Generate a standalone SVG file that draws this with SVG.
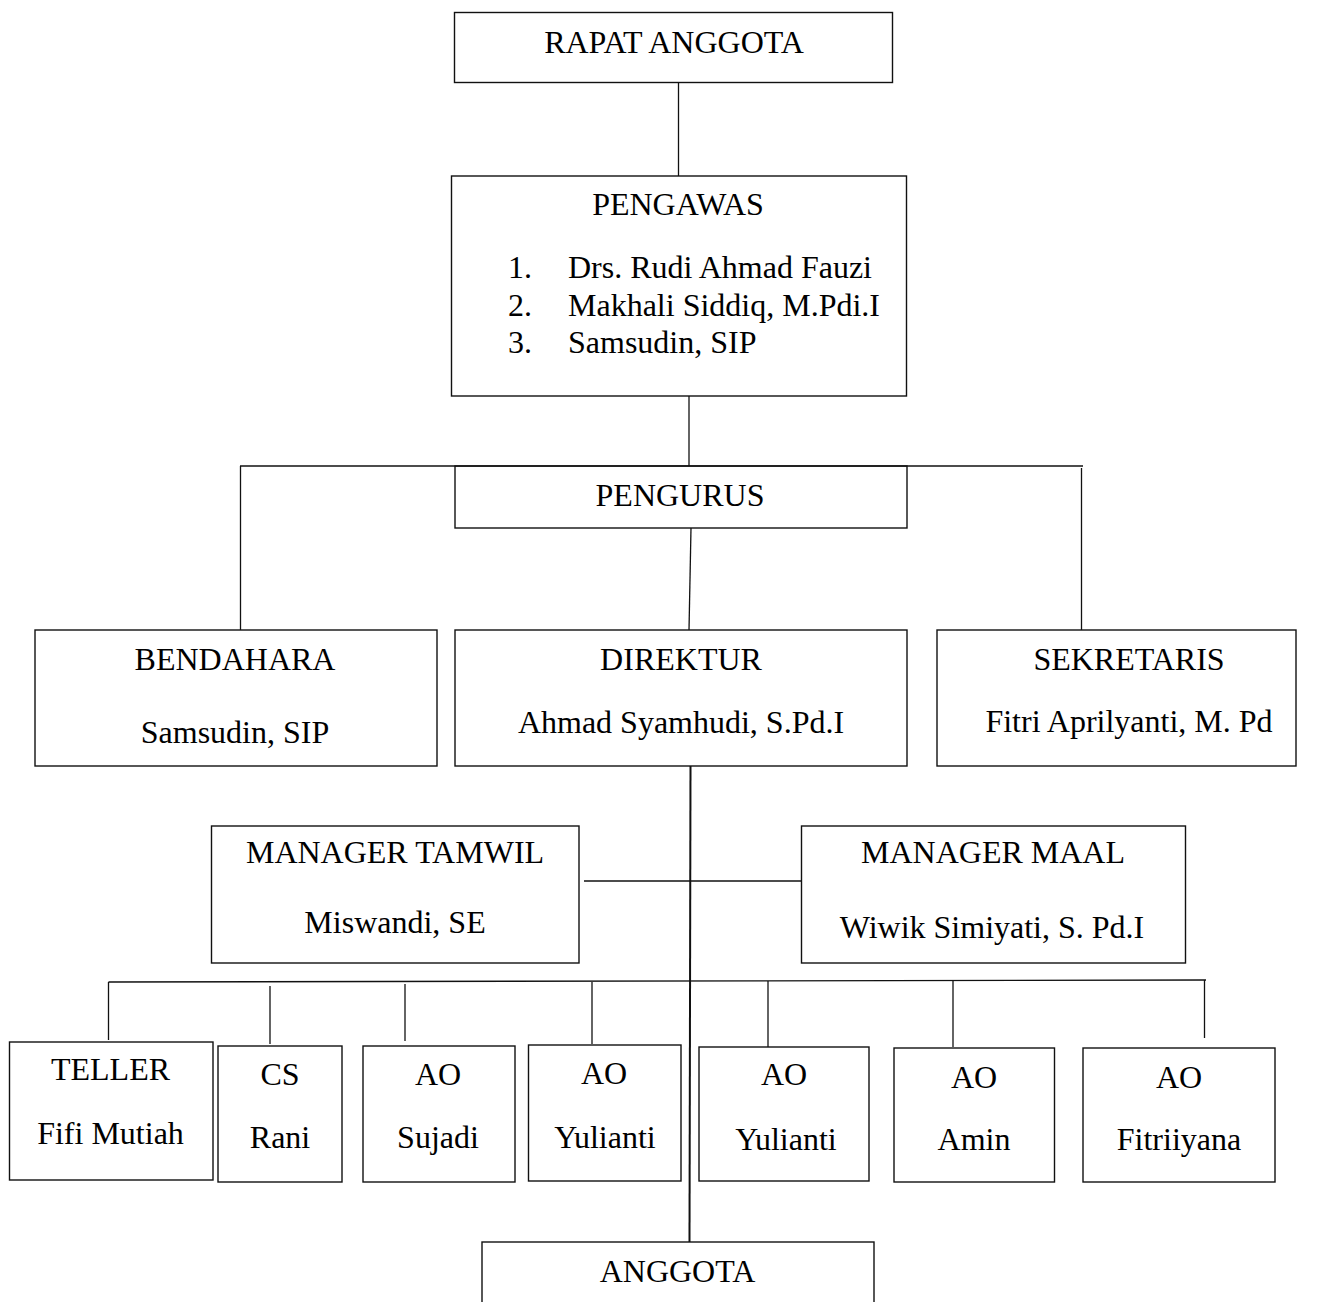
<svg xmlns="http://www.w3.org/2000/svg" width="1328" height="1302" viewBox="0 0 1328 1302">
<style>
rect{fill:#fff;stroke:#111;stroke-width:1.4}
text{font-family:"Liberation Serif","Times New Roman",serif;font-size:32px;fill:#000}
.c{text-anchor:middle}
#connectors line{stroke:#111;stroke-width:1.3}
#connectors line.m{stroke-width:2}
</style>
<rect x="0" y="0" width="1328" height="1302" style="fill:#fff;stroke:none"/>
<g id="connectors">
<line x1="678.5" y1="82" x2="678.5" y2="176"/>
<line x1="689" y1="396" x2="689" y2="466"/>
<line x1="691" y1="528" x2="689" y2="630"/>
<line x1="240.5" y1="466" x2="240.5" y2="630"/>
<line x1="1081.5" y1="468" x2="1081.5" y2="630"/>
<line x1="584" y1="881" x2="801" y2="881"/>
<line x1="108.5" y1="982" x2="1206" y2="980"/>
<line x1="108.5" y1="982" x2="108.5" y2="1040"/>
<line x1="270" y1="986" x2="270" y2="1044"/>
<line x1="405" y1="984" x2="405" y2="1041"/>
<line x1="592" y1="982" x2="592" y2="1044"/>
<line x1="768" y1="981" x2="768" y2="1047"/>
<line x1="953" y1="980" x2="953" y2="1047"/>
<line x1="1204.5" y1="980" x2="1204.5" y2="1038"/>
</g>
<g id="rapat"><rect x="454.5" y="12.5" width="438" height="70"/><text class="c" x="674" y="53">RAPAT ANGGOTA</text></g>
<g id="pengawas"><rect x="451.5" y="176" width="455" height="220"/>
<text class="c" x="678" y="215">PENGAWAS</text>
<text x="508" y="278">1.</text><text x="568" y="278">Drs. Rudi Ahmad Fauzi</text>
<text x="508" y="316">2.</text><text x="568" y="316">Makhali Siddiq, M.Pdi.I</text>
<text x="508" y="353">3.</text><text x="568" y="353">Samsudin, SIP</text>
</g>
<g id="pengurus"><rect x="455" y="466" width="452" height="62"/><text class="c" x="680" y="506">PENGURUS</text></g>
<line x1="240" y1="466" x2="1083" y2="466" style="stroke:#111;stroke-width:1.3"/>
<g id="bendahara"><rect x="35" y="630" width="402" height="136"/><text class="c" x="235" y="670">BENDAHARA</text><text class="c" x="235" y="743">Samsudin, SIP</text></g>
<g id="direktur"><rect x="455" y="630" width="452" height="136"/><text class="c" x="681" y="670">DIREKTUR</text><text class="c" x="681" y="733">Ahmad Syamhudi, S.Pd.I</text></g>
<g id="sekretaris"><rect x="937" y="630" width="359" height="136"/><text class="c" x="1129" y="670">SEKRETARIS</text><text class="c" x="1129" y="732">Fitri Aprilyanti, M. Pd</text></g>
<g id="tamwil"><rect x="211.5" y="826" width="367.5" height="137"/><text class="c" x="395" y="863">MANAGER TAMWIL</text><text class="c" x="395" y="933">Miswandi, SE</text></g>
<g id="maal"><rect x="801.5" y="826" width="384" height="137"/><text class="c" x="993" y="863">MANAGER MAAL</text><text class="c" x="992" y="938">Wiwik Simiyati, S. Pd.I</text></g>
<g id="teller"><rect x="9.5" y="1042" width="203.5" height="138"/><text class="c" x="110.5" y="1080">TELLER</text><text class="c" x="110.5" y="1144">Fifi Mutiah</text></g>
<g id="cs"><rect x="218" y="1046" width="124" height="136"/><text class="c" x="280" y="1085">CS</text><text class="c" x="280" y="1148">Rani</text></g>
<g id="ao-sujadi"><rect x="363" y="1046" width="152" height="136"/><text class="c" x="438" y="1085">AO</text><text class="c" x="438" y="1148">Sujadi</text></g>
<g id="ao-yulianti-1"><rect x="528.5" y="1045" width="152.5" height="136"/><text class="c" x="604" y="1084">AO</text><text class="c" x="605" y="1148">Yulianti</text></g>
<g id="ao-yulianti-2"><rect x="699" y="1047" width="170" height="134"/><text class="c" x="784" y="1085">AO</text><text class="c" x="786" y="1150">Yulianti</text></g>
<g id="ao-amin"><rect x="894" y="1048" width="160.5" height="134"/><text class="c" x="974" y="1088">AO</text><text class="c" x="974" y="1150">Amin</text></g>
<g id="ao-fitriiyana"><rect x="1083" y="1048" width="192" height="134"/><text class="c" x="1179" y="1088">AO</text><text class="c" x="1179" y="1150">Fitriiyana</text></g>
<g id="anggota"><rect x="482" y="1242" width="392" height="80"/><text class="c" x="677.5" y="1282">ANGGOTA</text></g>
<line x1="690.5" y1="766" x2="689.5" y2="1242" style="stroke:#111;stroke-width:2"/>
</svg>
